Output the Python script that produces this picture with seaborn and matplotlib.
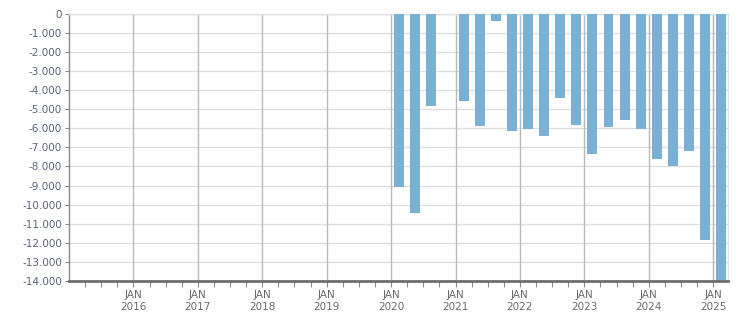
import matplotlib
matplotlib.use("Agg")
import matplotlib.pyplot as plt
import seaborn as sns
import pandas as pd
import numpy as np
from matplotlib.ticker import FuncFormatter, FixedLocator

quarters = ["2020-Q1", "2020-Q2", "2020-Q3", "2021-Q1", "2021-Q2", "2021-Q3",
            "2021-Q4", "2022-Q1", "2022-Q2", "2022-Q3", "2022-Q4", "2023-Q1",
            "2023-Q2", "2023-Q3", "2023-Q4", "2024-Q1", "2024-Q2", "2024-Q3",
            "2024-Q4", "2025-Q1"]
values = [-9070, -10450, -4820, -4560, -5880, -390, -6150, -6030, -6420, -4400,
          -5820, -7340, -5930, -5560, -6030, -7590, -7980, -7190, -11830, -14400]
year_labels = ["2016", "2017", "2018", "2019", "2020", "2021", "2022", "2023", "2024", "2025"]

def qpos(q):
    y, qq = q.split("-Q")
    return int(y) + (int(qq) - 1) * 0.25 + 0.125

df = pd.DataFrame({"pos": [qpos(q) for q in quarters], "value": values})

sns.set_style("white")
plt.rcParams['font.family'] = ['DejaVu Sans']

fig = plt.figure(figsize=(7.51, 3.13), dpi=100)
ax = fig.add_axes([69/751, 1-281/313, (728-69)/751, (281-13.7)/313])

sns.barplot(data=df, x="pos", y="value", native_scale=True, color="#79b1d4",
            saturation=1, width=0.62, ax=ax, linewidth=0, zorder=3)

ax.set_xlim(2015.0, 2025.23)
ax.set_ylim(-14000, 0)

ax.yaxis.set_major_locator(FixedLocator(np.arange(-14000, 1, 1000)))
ax.yaxis.set_major_formatter(FuncFormatter(lambda v, p: f"{int(v):,}".replace(",", ".")))
ax.xaxis.set_major_locator(FixedLocator([int(y) for y in year_labels]))
ax.set_xticklabels([f"JAN\n{y}" for y in year_labels])
ax.xaxis.set_minor_locator(FixedLocator(np.arange(2015.25, 2025.3, 0.25)))

ax.grid(axis="y", color="#dedede", linewidth=1, zorder=0)
for y in year_labels:
    ax.axvline(int(y), color="#b9b9b9", linewidth=1, zorder=1)
ax.set_axisbelow(True)

for s in ["top", "right"]:
    ax.spines[s].set_color("#e2e2e2")
    ax.spines[s].set_linewidth(1)
ax.spines["left"].set_color("#8a8a8a")
ax.spines["left"].set_linewidth(1)
ax.spines["bottom"].set_color("#6e6e6e")
ax.spines["bottom"].set_linewidth(2)
ax.spines["bottom"].set_zorder(5)

ax.tick_params(axis="y", which="major", left=True, length=3, width=0.8, color="#8a8a8a",
               labelsize=7.5, labelcolor="#5a6478", pad=2)
ax.tick_params(axis="x", which="both", bottom=True, length=4.5, width=0.8, color="#8a8a8a",
               labelsize=7.5, labelcolor="#6a6a6a", pad=2)

ax.set_xlabel("")
ax.set_ylabel("")

fig.savefig("out.png", dpi=100)
